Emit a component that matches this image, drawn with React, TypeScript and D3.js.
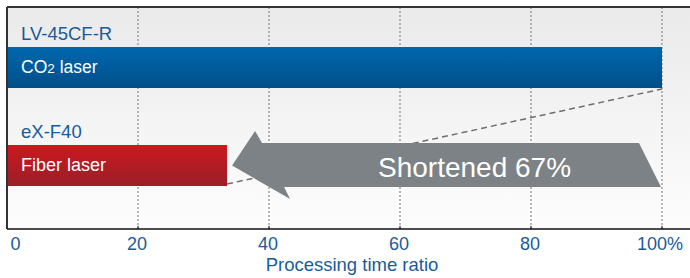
import React from "react";
import * as d3 from "d3";

// chart values
const models = ["LV-45CF-R", "eX-F40"];
const lasers = ["CO2 laser", "Fiber laser"];
const ratios = [100, 33.6];
const xTicks = [0, 20, 40, 60, 80, 100];
const axisTitle = "Processing time ratio";
const arrowLabel = "Shortened 67%";

const W = 690, H = 278;
const margin = { top: 7, left: 7, bottom: 49 };
const FONT = "'Liberation Sans', Arial, Helvetica, sans-serif";
const BLUE_TEXT = "#1a5b99";

export default function App() {
    const x = d3.scaleLinear().domain([0, 100]).range([margin.left, 662]);
    const y = d3.scaleBand<string>().domain(models).range([47, 186]).paddingInner(0.5816).paddingOuter(0);
    const bottom = H - margin.bottom;
    const bw = y.bandwidth();

    // arrow shape built around the fiber bar end and the 100% mark
    const xF = x(ratios[1]);
    const x100 = x(100);
    const fTop = y(models[1])!;
    const fBot = fTop + bw;
    const arrowPts: [number, number][] = [
        [xF + 5, (fTop + fBot) / 2],
        [xF + 28, fTop - 14],
        [xF + 35, fTop - 2],
        [x100 - 23, fTop - 2],
        [x100 - 1, fBot + 1],
        [xF + 57, fBot + 1],
        [xF + 63, fBot + 13],
    ];
    const arrowPath = d3.line()(arrowPts) + "Z";

    const colors = [
        ["#0067ae", "#004f88"],
        ["#cc1820", "#9a1f28"],
    ];

    return (
        <svg width={W} height={H} style={{ position: "absolute", left: 0, top: 0 }} fontFamily={FONT}>
            <defs>
                <linearGradient id="bg" x1="0" y1="0" x2="0" y2="1">
                    <stop offset="0" stopColor="#eaeaea" />
                    <stop offset="1" stopColor="#fdfdfd" />
                </linearGradient>
                {colors.map((c, i) => (
                    <linearGradient key={i} id={"bar" + i} x1="0" y1="0" x2="0" y2="1">
                        <stop offset="0" stopColor={c[0]} />
                        <stop offset="1" stopColor={c[1]} />
                    </linearGradient>
                ))}
            </defs>
            <rect x={0} y={0} width={W} height={H} fill="#fff" />
            <rect x={margin.left} y={margin.top} width={W - margin.left} height={bottom - margin.top} fill="url(#bg)" />

            {/* grid */}
            {xTicks.filter(t => t > 0).map(t => (
                <line key={t} x1={x(t)} x2={x(t)} y1={margin.top} y2={bottom}
                    stroke="#8a8a8a" strokeWidth={1.2} strokeDasharray="2,2" />
            ))}

            {/* dashed guide between bar ends */}
            <line x1={xF} y1={fBot - 2} x2={x100} y2={y(models[0])! + bw + 1}
                stroke="#6e6e6e" strokeWidth={1.5} strokeDasharray="6,4" />

            {/* bars */}
            {models.map((m, i) => (
                <rect key={m} x={x(0)} y={y(m)} width={x(ratios[i]) - x(0)} height={bw} fill={`url(#bar${i})`} />
            ))}

            {/* arrow */}
            <path d={arrowPath} fill="#7c8286" />
            <text x={(xF + x100) / 2 + 30} y={fBot - 9} fill="#fff" fontSize={28} textAnchor="middle">{arrowLabel}</text>

            {/* labels */}
            {models.map((m, i) => (
                <text key={m} x={21} y={y(m)! - 7} fill={BLUE_TEXT} fontSize={18.5}>{m}</text>
            ))}
            <text x={21} y={y(models[0])! + 26} fill="#fff" fontSize={17.5}>
                CO<tspan fontSize={13.5}>2</tspan> laser
            </text>
            <text x={21} y={y(models[1])! + 26} fill="#fff" fontSize={18}>{lasers[1]}</text>

            {/* frame */}
            <line x1={margin.left} x2={W} y1={margin.top} y2={margin.top} stroke="#333" strokeWidth={2} />
            <line x1={margin.left} x2={margin.left} y1={margin.top} y2={bottom} stroke="#333" strokeWidth={2} />
            <line x1={margin.left} x2={W} y1={bottom} y2={bottom} stroke="#111" strokeWidth={1.5} />
            {xTicks.filter(t => t > 0).map(t => (
                <line key={t} x1={x(t)} x2={x(t)} y1={bottom - 3} y2={bottom} stroke="#111" strokeWidth={1} />
            ))}

            {/* x tick labels */}
            {xTicks.map(t => (
                <text key={t} x={t === 0 ? x(t) + 8.5 : x(t) - (t === 100 ? 2 : 1)} y={250}
                    fill={BLUE_TEXT} fontSize={18} textAnchor="middle">
                    {t === 100 ? t + "%" : t}
                </text>
            ))}
            <text x={352} y={271} fill={BLUE_TEXT} fontSize={18.5} textAnchor="middle">{axisTitle}</text>
        </svg>
    );
}
